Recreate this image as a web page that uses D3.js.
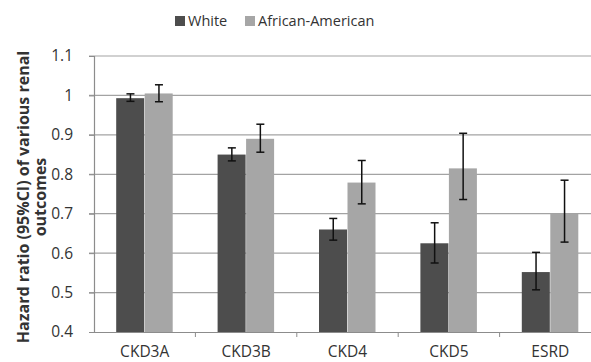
<!DOCTYPE html>
<html><head><meta charset="utf-8">
<script src="https://cdn.jsdelivr.net/npm/d3@7"></script>
<style>body{margin:0;background:#fff;}svg{display:block;font-family:"Open Sans",sans-serif;}</style>
</head><body><svg id="c" width="591" height="362"></svg>
<script>
const categories = ["CKD3A","CKD3B","CKD4","CKD5","ESRD"];
const seriesNames = ["White","African-American"];
const whiteHR = [0.993, 0.850, 0.660, 0.625, 0.552];
const whiteLow = [0.985, 0.834, 0.633, 0.575, 0.507];
const whiteHigh = [1.004, 0.867, 0.688, 0.677, 0.602];
const aaHR = [1.005, 0.890, 0.779, 0.815, 0.700];
const aaLow = [0.984, 0.856, 0.725, 0.736, 0.628];
const aaHigh = [1.027, 0.927, 0.835, 0.904, 0.785];
const yTicks = [0.4,0.5,0.6,0.7,0.8,0.9,1,1.1];
const colors = ["#4d4d4d","#a6a6a6"];

const svg = d3.select("#c");
const x0 = d3.scaleBand().domain(categories).range([94, 601]).paddingInner(0).paddingOuter(0);
const groupW = 57;
const x1 = d3.scaleBand().domain(seriesNames).range([0, groupW]);
const y = d3.scaleLinear().domain([0.4, 1.1]).range([332, 56]);

// gridlines
svg.append("g").selectAll("line").data(yTicks.filter(d=>d>0.4)).join("line")
  .attr("x1", 89).attr("x2", 601).attr("y1", d=>y(d)).attr("y2", d=>y(d))
  .attr("stroke", "#a3a3a3").attr("stroke-width", 1.2);

// y axis
const ya = svg.append("g").attr("transform","translate(94,0)")
  .call(d3.axisLeft(y).tickValues(yTicks).tickSize(5).tickPadding(16).tickFormat(d=>d3.format("")(d)));
ya.select(".domain").attr("stroke","#8c8c8c").attr("stroke-width",1.2);
ya.selectAll(".tick line").attr("stroke","#8c8c8c");
ya.selectAll("text").attr("font-size",15.5).attr("fill","#333").attr("font-family","Open Sans");

// bars
const data = categories.map((c,i)=>({c, vals:[
  {s:seriesNames[0], v:whiteHR[i], lo:whiteLow[i], hi:whiteHigh[i], col:colors[0]},
  {s:seriesNames[1], v:aaHR[i], lo:aaLow[i], hi:aaHigh[i], col:colors[1]}]}));
const g = svg.append("g").selectAll("g").data(data).join("g")
  .attr("transform", d=>`translate(${x0(d.c)+(x0.bandwidth()-groupW)/2},0)`);
g.selectAll("rect").data(d=>d.vals).join("rect")
  .attr("x", d=>x1(d.s)).attr("width", x1.bandwidth()-0.5)
  .attr("y", d=>y(d.v)).attr("height", d=>y(0.4)-y(d.v)).attr("fill", d=>d.col);
const eb = g.selectAll("g.eb").data(d=>d.vals).join("g").attr("class","eb")
  .attr("transform", d=>`translate(${x1(d.s)+x1.bandwidth()/2},0)`);
eb.append("line").attr("y1",d=>y(d.lo)).attr("y2",d=>y(d.hi)).attr("stroke","#111").attr("stroke-width",1.5);
eb.append("line").attr("x1",-4).attr("x2",4).attr("y1",d=>y(d.lo)).attr("y2",d=>y(d.lo)).attr("stroke","#111").attr("stroke-width",1.5);
eb.append("line").attr("x1",-4).attr("x2",4).attr("y1",d=>y(d.hi)).attr("y2",d=>y(d.hi)).attr("stroke","#111").attr("stroke-width",1.5);

// x axis
const xa = svg.append("g").attr("transform","translate(0,332)")
  .call(d3.axisBottom(x0).tickSize(0).tickPadding(14));
xa.select(".domain").attr("stroke","#8c8c8c").attr("stroke-width",1.2);
xa.selectAll("text").attr("font-size",15.5).attr("fill","#333").attr("font-family","Open Sans");
svg.append("g").selectAll("line").data(categories.slice(1)).join("line")
  .attr("x1", d=>x0(d)).attr("x2", d=>x0(d)).attr("y1",332).attr("y2",337)
  .attr("stroke","#8c8c8c");

// y title
const yt = svg.append("text").attr("transform","translate(23,197) rotate(-90)")
  .attr("text-anchor","middle").attr("font-weight","bold").attr("font-size",16).attr("fill","#333");
yt.append("tspan").attr("x",0).attr("dy","0.35em").text("Hazard ratio (95%CI) of various renal");
yt.append("tspan").attr("x",0).attr("dy","1.1em").text("outcomes");

// legend
const leg = svg.append("g");
const legX = [175, 245];
seriesNames.forEach((s,i)=>{
  leg.append("rect").attr("x",legX[i]).attr("y",16).attr("width",10).attr("height",10).attr("fill",colors[i]);
  leg.append("text").attr("x",legX[i]+13).attr("y",21).attr("dy","0.35em").attr("font-size",14.5).attr("fill","#333").text(s);
});
</script></body></html>
